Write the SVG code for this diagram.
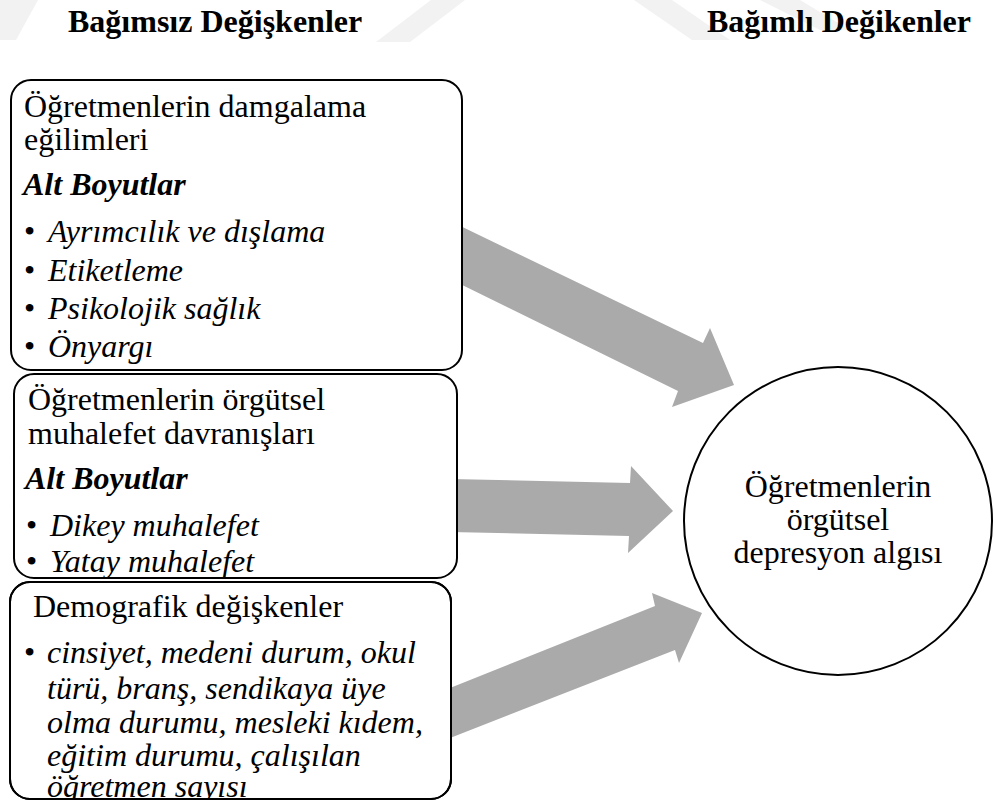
<svg xmlns="http://www.w3.org/2000/svg" width="995" height="802" viewBox="0 0 995 802">
<style>
  .bg{fill:#ffffff}
  .wm{fill:#f2f2f2}
  .box{fill:#ffffff;stroke:#000000;stroke-width:2}
  .circ{fill:#ffffff;stroke:#000000;stroke-width:2}
  .arr{fill:#aaaaaa;stroke:none}
  text{font-family:'Liberation Serif','Times New Roman','DejaVu Serif',serif;font-size:32px;fill:#000000}
  .hdr{font-weight:bold}
  .bi{font-weight:bold;font-style:italic}
  .it{font-style:italic}
  .mid{text-anchor:middle}
</style>
<defs>
  <clipPath id="clip3"><rect x="0" y="582" width="460" height="218"/></clipPath>
</defs>
<rect class="bg" x="0" y="0" width="995" height="802"/>
<g id="watermark">
  <polygon class="wm" points="0,0 38,0 16,40 0,40"/>
  <polygon class="wm" points="431,0 465,0 410,42 376,42"/>
  <polygon class="wm" points="634,0 672,0 730,40 692,40"/>
  <polygon class="wm" points="760,0 800,0 850,30 820,30"/>
</g>
<g id="headers" font-family="Liberation Serif, Times New Roman, serif">
  <text class="hdr" x="68" y="32">Bağımsız Değişkenler</text>
  <text class="hdr" x="707" y="32">Bağımlı Değikenler</text>
</g>
<g id="connectors">
  <polygon class="arr" points="450,221 703,343 710,328 734,385 672,407 678,391 450,279"/>
  <polygon class="arr" points="450,479 630,483 631,466 673,511 628,553 629,536 450,532"/>
  <polygon class="arr" points="445,690 655,606 652,593 702,613 679,663 675,650 445,740"/>
</g>
<g id="box1" font-family="Liberation Serif, Times New Roman, serif">
  <rect class="box" x="11" y="80" width="451" height="290" rx="20" ry="20"/>
  <text x="24" y="117">Öğretmenlerin damgalama</text>
  <text x="24" y="150">eğilimleri</text>
  <text class="bi" x="23" y="195">Alt Boyutlar</text>
  <text x="24" y="242">•</text><text class="it" x="48" y="242">Ayrımcılık ve dışlama</text>
  <text x="24" y="281">•</text><text class="it" x="48" y="281">Etiketleme</text>
  <text x="24" y="319">•</text><text class="it" x="48" y="319">Psikolojik sağlık</text>
  <text x="24" y="357">•</text><text class="it" x="48" y="357">Önyargı</text>
</g>
<g id="box2" font-family="Liberation Serif, Times New Roman, serif">
  <rect class="box" x="14" y="374" width="443" height="204" rx="20" ry="20"/>
  <text x="28" y="410">Öğretmenlerin örgütsel</text>
  <text x="28" y="444">muhalefet davranışları</text>
  <text class="bi" x="25" y="489">Alt Boyutlar</text>
  <text x="26" y="536">•</text><text class="it" x="50" y="536">Dikey muhalefet</text>
  <text x="26" y="572">•</text><text class="it" x="50" y="572">Yatay muhalefet</text>
</g>
<g id="box3" font-family="Liberation Serif, Times New Roman, serif">
  <rect class="box" x="10" y="582" width="441" height="217" rx="20" ry="20"/>
  <g clip-path="url(#clip3)">
    <text x="33" y="617">Demografik değişkenler</text>
    <text x="24" y="663">•</text><text class="it" x="47" y="663">cinsiyet, medeni durum, okul</text>
    <text class="it" x="47" y="699">türü, branş, sendikaya üye</text>
    <text class="it" x="47" y="733">olma durumu, mesleki kıdem,</text>
    <text class="it" x="47" y="766">eğitim durumu, çalışılan</text>
    <text class="it" x="47" y="797">öğretmen sayısı</text>
  </g>
  <rect x="10" y="582" width="441" height="217" rx="20" ry="20" fill="none" stroke="#000" stroke-width="2"/>
</g>
<g id="outcome" font-family="Liberation Serif, Times New Roman, serif">
  <circle class="circ" cx="838" cy="521" r="154"/>
  <text class="mid" x="838" y="497">Öğretmenlerin</text>
  <text class="mid" x="838" y="530">örgütsel</text>
  <text class="mid" x="838" y="563">depresyon algısı</text>
</g>
</svg>
